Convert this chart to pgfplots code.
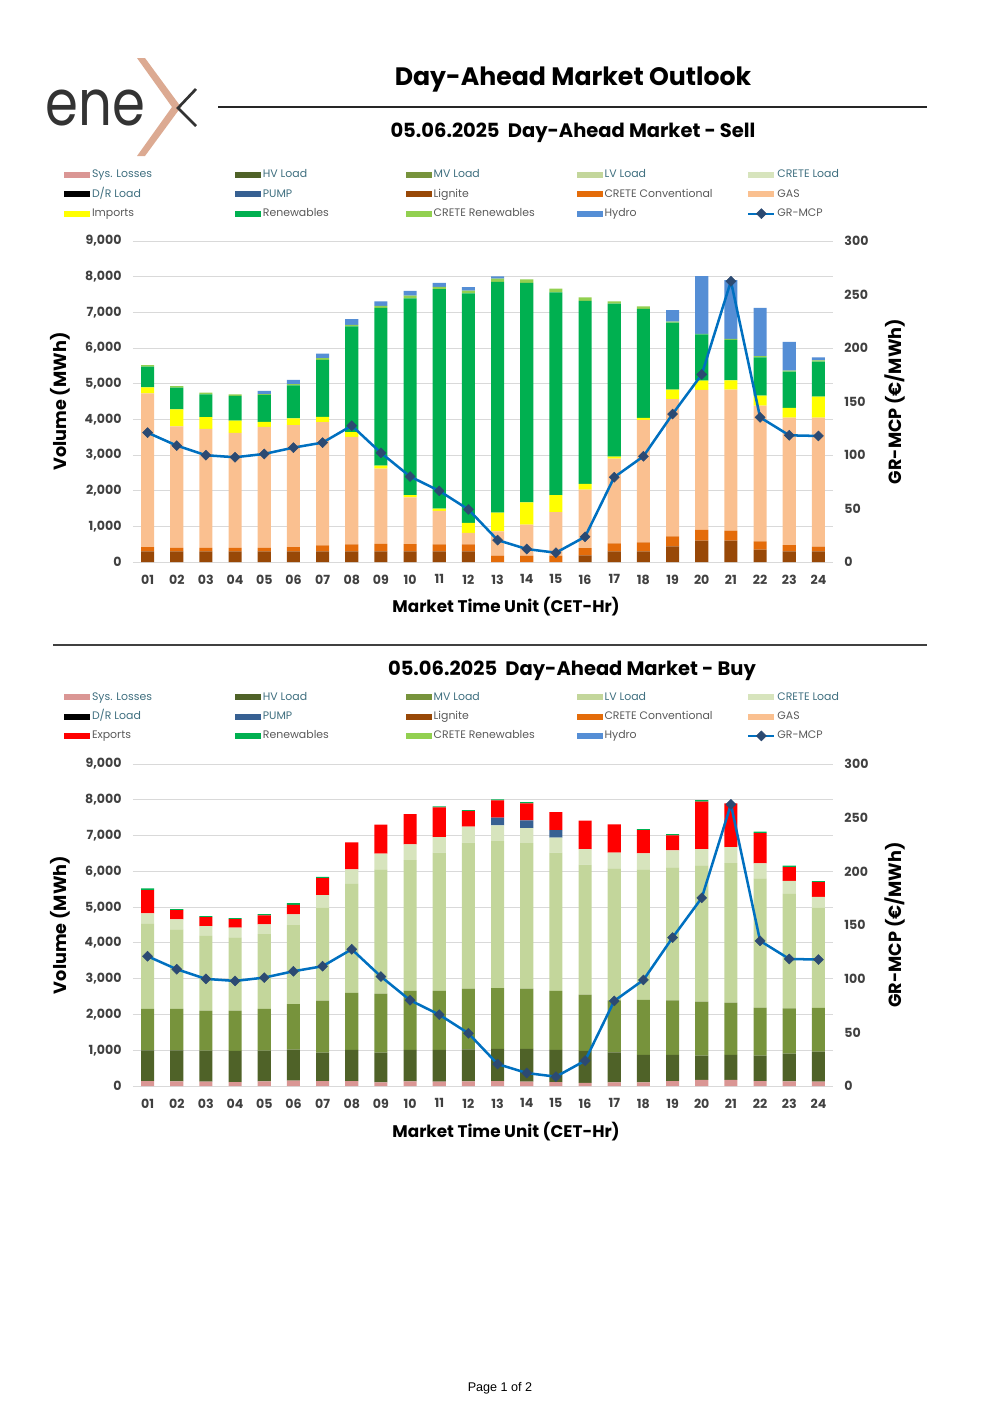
\documentclass[border=0pt]{standalone}
\usepackage{fontspec}
\setmainfont{Poppins}
\newfontfamily\arialfont{Liberation Sans}
\usepackage{pgfplots}
\pgfplotsset{compat=1.18}
\usepackage{pgfplotstable}

\definecolor{cLoss}{HTML}{DA9694}
\definecolor{cHV}{HTML}{4F6228}
\definecolor{cMV}{HTML}{77933C}
\definecolor{cLV}{HTML}{C3D69B}
\definecolor{cCL}{HTML}{D7E4BD}
\definecolor{cDR}{HTML}{000000}
\definecolor{cPump}{HTML}{376092}
\definecolor{cLig}{HTML}{984807}
\definecolor{cCC}{HTML}{E46C0A}
\definecolor{cGas}{HTML}{FAC090}
\definecolor{cImp}{HTML}{FFFF00}
\definecolor{cExp}{HTML}{FF0000}
\definecolor{cRen}{HTML}{00B050}
\definecolor{cCR}{HTML}{92D050}
\definecolor{cHyd}{HTML}{558ED5}
\definecolor{cLine}{HTML}{0070C0}
\definecolor{cMark}{HTML}{2C4A72}
\definecolor{cGrid}{HTML}{D9D9D9}
\definecolor{cTick}{HTML}{404040}
\definecolor{cTeal}{HTML}{3F6F7F}
\definecolor{cGray}{HTML}{595959}
\definecolor{cLogo}{HTML}{DCAA92}
\definecolor{cInk}{HTML}{333333}

% sell side, segment heights (MWh)
\pgfplotstableread{
h lig cc gas imp ren crr hyd
1  300 120 4310 170  575  45    0
2  300 100 3400 480  610  45    0
3  300 100 3330 330  640  50    0
4  300 100 3220 345  690  45    0
5  300 100 3390 140  755  25   90
6  300 120 3415 195  925  35  120
7  300 165 3455 150 1600  50  120
8  300 195 3015 130 2965  45  160
9  300 210 2110  85 4420  55  130
10 300 205 1305  65 5520  75  130
11 300 195  940  65 6150  65  110
12 300 195  325 280 6435  75   95
13   0 177  680 530 6465  95   65
14   0 177  870 625 6155 100    0
15   0 177 1225 475 5680 110    0
16 187 205 1640 160 5130 100    0
17 300 220 2380  55 4290  65    0
18 300 250 3435  55 3060  65    0
19 440 280 3845 270 1875  30  325
20 600 300 3925 260 1295  20 1615
21 600 280 3955 260 1130  30 1650
22 345 235 3805 280 1075  30 1355
23 300 175 3570 280 1010  30  810
24 300 130 3620 590  980  35   85
}\sell

% buy side, segment heights (MWh)
\pgfplotstableread{
h los hv mv lv cl pump exp ren
1  140 858 1157 2379 289   0  653 46
2  130 868 1157 2220 280   0  261 28
3  120 870 1120 2090 270   0  252 28
4  110 870 1130 2043 271   0  242 28
5  130 860 1165 2089 271   0  252 37
6  150 868 1268 2211 299   0  270 47
7  140 793 1455 2593 355   0  476 37
8  140 867 1596 3050 401   0  756  0
9  100 833 1651 3470 439   0  811  0
10 130 877 1652 3656 439   0  849  0
11 120 887 1652 3862 438   0  830 28
12 130 896 1698 4076 448   0  439 28
13 140 895 1698 4114 438 215  485 28
14 120 915 1689 4067 420 214  476 37
15 110 897 1652 3862 419 215  504  0
16  90 889 1577 3629 438   0  793  0
17 100 842 1455 3685 439   0  792  0
18 100 768 1539 3647 448   0  653 28
19 140 728 1529 3713 476   0  420 37
20 170 679 1511 3806 457   0 1325 46
21 170 698 1464 3899 448   0 1221  0
22 140 709 1343 3610 420   0  849 37
23 130 775 1268 3200 364   0  382 38
24 120 841 1222 2798 308   0  411 28
}\buy

% GR-MCP (EUR/MWh)
\pgfplotstableread{
h mcp
1  120.9
2  108.8
3  99.8
4  97.9
5  101.0
6  106.9
7  111.6
8  127.4
9  102.0
10 79.9
11 66.5
12 49.1
13 20.5
14 12.1
15 8.7
16 23.6
17 79.3
18 98.8
19 138.3
20 175.3
21 262.4
22 135.2
23 118.4
24 117.8
}\mcp

\newcommand{\lgt}[1]{\makebox[86.2pt][l]{\hspace{1.2pt}\textcolor{cTeal}{#1}}}
\newcommand{\lgg}[1]{\makebox[86.2pt][l]{\hspace{1.2pt}\textcolor{cGray}{#1}}}

\pgfplotsset{
  swatch/.style={legend image code/.code={\fill[##1, draw=none] (0pt,-1.8pt) rectangle (15.5pt,1.8pt);}},
  mcpline/.style={color=cLine, line width=1.5pt, mark=square*, mark size=2.1pt,
    mark options={rotate=45, fill=cMark, draw=cMark, line width=0.3pt},
    legend image code/.code={\draw[mark repeat=2,mark phase=2,##1, sharp plot, line width=1.2pt]
      plot coordinates {(0pt,0pt) (7.75pt,0pt) (15.5pt,0pt)};}},
  common/.style={
    scale only axis, width=416.7pt,
    xmin=0.5, xmax=24.5,
    axis line style={draw=none}, tick style={draw=none},
    /pgf/number format/assume math mode=true,
    /pgf/number format/1000 sep={,},
    yticklabel style={font=\fontsize{7.5}{9}\bfseries, text=cTick},
    ylabel style={font=\fontsize{10.5}{12}\bfseries, anchor=center},
  },
  barsaxis/.style={common,
    ymin=0, ymax=9000, ytick={0,1000,...,9000},
    xtick={1,...,24},
    xticklabels={01,02,03,04,05,06,07,08,09,10,11,12,13,14,15,16,17,18,19,20,21,22,23,24},
    xticklabel style={font=\fontsize{7.5}{9}\bfseries, text=cTick, yshift=-4pt},
    yticklabel style={xshift=-3.3pt},
    ymajorgrids, grid style={cGrid, line width=0.6pt},
    ybar stacked, bar width=0.45,
    ylabel={Volume (MWh)},
    ylabel style={at={(axis description cs:-0.104,0.5)}},
    xlabel={Market Time Unit (CET-Hr)},
    xlabel style={font=\fontsize{10}{12}\bfseries, at={(axis description cs:0.533,-0.14)}, anchor=center},
    legend columns=5, legend cell align=left,
    legend style={draw=none, fill=none, inner sep=0pt, outer sep=0pt,
      row sep=5pt, column sep=0pt, font=\fontsize{6.5}{7}\selectfont,
      nodes={inner sep=0pt, text height=5pt, text depth=1.5pt}},
  },
  lineaxis/.style={common,
    ymin=0, ymax=300, ytick={0,50,...,300},
    axis x line=none, axis y line*=right,
    yticklabel style={xshift=3.3pt},
    ylabel={GR-MCP (€/MWh)},
    ylabel style={at={(axis description cs:1.0886,0.5)}},
  },
}

\begin{document}
\begin{tikzpicture}

\begin{scope}[x=0.59528pt, y=-0.59528pt]
\path[use as bounding box] (0,0) rectangle (1000,1415);
% logo
\node[anchor=base west, inner sep=0pt, text=cInk] at (45,125)
  {\scalebox{0.83}[1]{\fontsize{38}{38}\selectfont ene}};
\fill[cLogo] (137,58) -- (145,58) -- (181,107) -- (145,156) -- (137,156) -- (172,107) -- cycle;
\draw[cInk, line width=1.6pt] (196,89) -- (178,108) -- (196,126);
% headings and rules
\node[anchor=base, inner sep=0pt, font=\fontsize{15}{18}\bfseries] at (573,85) {Day-Ahead Market Outlook};
\draw[line width=0.9pt, black!85] (218,107) -- (927,107);
\node[anchor=base, inner sep=0pt, font=\fontsize{11.6}{14}\bfseries] at (573,137.7) {05.06.2025\ \ Day-Ahead Market - Sell};
\draw[line width=0.8pt, black!75] (53,645) -- (927,645);
\node[anchor=base, inner sep=0pt, font=\fontsize{11.6}{14}\bfseries] at (572,675.5) {05.06.2025\ \ Day-Ahead Market - Buy};
\node[anchor=base, inner sep=0pt, font=\arialfont\fontsize{7.5}{9}\selectfont] at (500,1391.5) {Page 1 of 2};
\end{scope}

% ---------- Sell ----------
\begin{axis}[barsaxis, at={(79.17pt,-334.55pt)}, anchor=south west, height=191.09pt,
  legend style={at={(axis description cs:-0.0986,1.2227)}, anchor=north west}]
\addlegendimage{swatch, fill=cLoss}\addlegendentry{\lgt{Sys. Losses}}
\addlegendimage{swatch, fill=cHV}\addlegendentry{\lgt{HV Load}}
\addlegendimage{swatch, fill=cMV}\addlegendentry{\lgt{MV Load}}
\addlegendimage{swatch, fill=cLV}\addlegendentry{\lgt{LV Load}}
\addlegendimage{swatch, fill=cCL}\addlegendentry{\lgt{CRETE Load}}
\addlegendimage{swatch, fill=cDR}\addlegendentry{\lgt{D/R Load}}
\addlegendimage{swatch, fill=cPump}\addlegendentry{\lgt{PUMP}}
\addplot[fill=cLig, draw=none, swatch] table[x=h, y=lig] {\sell};
\addlegendentry{\lgg{Lignite}}
\addplot[fill=cCC, draw=none, swatch] table[x=h, y=cc] {\sell};
\addlegendentry{\lgg{CRETE Conventional}}
\addplot[fill=cGas, draw=none, swatch] table[x=h, y=gas] {\sell};
\addlegendentry{\lgg{GAS}}
\addplot[fill=cImp, draw=none, swatch] table[x=h, y=imp] {\sell};
\addlegendentry{\lgg{Imports}}
\addplot[fill=cRen, draw=none, swatch] table[x=h, y=ren] {\sell};
\addlegendentry{\lgg{Renewables}}
\addplot[fill=cCR, draw=none, swatch] table[x=h, y=crr] {\sell};
\addlegendentry{\lgg{CRETE Renewables}}
\addplot[fill=cHyd, draw=none, swatch] table[x=h, y=hyd] {\sell};
\addlegendentry{\lgg{Hydro}}
\addlegendimage{mcpline}\addlegendentry{\lgg{GR-MCP}}
\end{axis}

\begin{axis}[lineaxis, at={(79.17pt,-334.55pt)}, anchor=south west, height=191.09pt]
\addplot[mcpline] table[x=h, y=mcp] {\mcp};
\end{axis}

% ---------- Buy ----------
\begin{axis}[barsaxis, at={(79.17pt,-646.47pt)}, anchor=south west, height=191.68pt,
  legend style={at={(axis description cs:-0.0986,1.2242)}, anchor=north west}]
\addplot[fill=cLoss, draw=none, swatch] table[x=h, y=los] {\buy};
\addlegendentry{\lgt{Sys. Losses}}
\addplot[fill=cHV, draw=none, swatch] table[x=h, y=hv] {\buy};
\addlegendentry{\lgt{HV Load}}
\addplot[fill=cMV, draw=none, swatch] table[x=h, y=mv] {\buy};
\addlegendentry{\lgt{MV Load}}
\addplot[fill=cLV, draw=none, swatch] table[x=h, y=lv] {\buy};
\addlegendentry{\lgt{LV Load}}
\addplot[fill=cCL, draw=none, swatch] table[x=h, y=cl] {\buy};
\addlegendentry{\lgt{CRETE Load}}
\addlegendimage{swatch, fill=cDR}\addlegendentry{\lgt{D/R Load}}
\addplot[fill=cPump, draw=none, swatch] table[x=h, y=pump] {\buy};
\addlegendentry{\lgt{PUMP}}
\addlegendimage{swatch, fill=cLig}\addlegendentry{\lgg{Lignite}}
\addlegendimage{swatch, fill=cCC}\addlegendentry{\lgg{CRETE Conventional}}
\addlegendimage{swatch, fill=cGas}\addlegendentry{\lgg{GAS}}
\addplot[fill=cExp, draw=none, swatch] table[x=h, y=exp] {\buy};
\addlegendentry{\lgg{Exports}}
\addplot[fill=cRen, draw=none, swatch] table[x=h, y=ren] {\buy};
\addlegendentry{\lgg{Renewables}}
\addlegendimage{swatch, fill=cCR}\addlegendentry{\lgg{CRETE Renewables}}
\addlegendimage{swatch, fill=cHyd}\addlegendentry{\lgg{Hydro}}
\addlegendimage{mcpline}\addlegendentry{\lgg{GR-MCP}}
\end{axis}

\begin{axis}[lineaxis, at={(79.17pt,-646.47pt)}, anchor=south west, height=191.68pt]
\addplot[mcpline] table[x=h, y=mcp] {\mcp};
\end{axis}

\end{tikzpicture}
\end{document}
